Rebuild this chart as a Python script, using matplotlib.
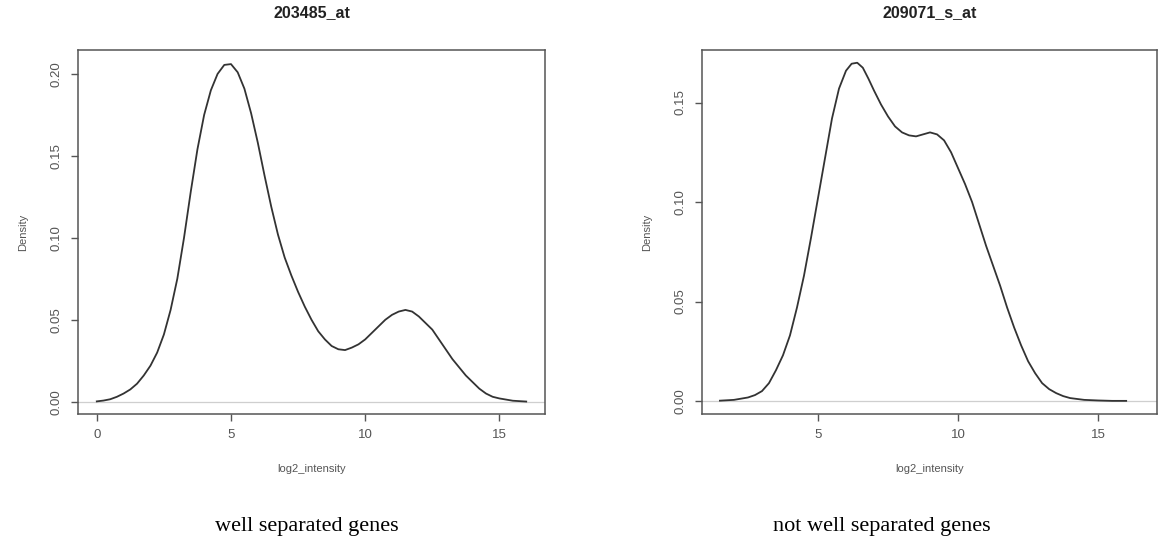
import matplotlib
matplotlib.use("Agg")
import matplotlib.pyplot as plt

plt.rcParams['font.family'] = ['Liberation Sans', 'DejaVu Sans']

# probe set names and captions
titles = ['203485_at', '209071_s_at']
captions = ['well separated genes', 'not well separated genes']
x_label = 'log2_intensity'
y_label = 'Density'

# density curve of 203485_at
left_x = [0.0, 0.25, 0.5, 0.75, 1.0, 1.25, 1.5, 1.75, 2.0, 2.25, 2.5, 2.75,
          3.0, 3.25, 3.5, 3.75, 4.0, 4.25, 4.5, 4.75, 5.0, 5.25, 5.5, 5.75,
          6.0, 6.25, 6.5, 6.75, 7.0, 7.25, 7.5, 7.75, 8.0, 8.25, 8.5, 8.75,
          9.0, 9.25, 9.5, 9.75, 10.0, 10.25, 10.5, 10.75, 11.0, 11.25, 11.5,
          11.75, 12.0, 12.25, 12.5, 12.75, 13.0, 13.25, 13.5, 13.75, 14.0,
          14.25, 14.5, 14.75, 15.0, 15.5, 16.0]
left_y = [0.0002, 0.0007, 0.0015, 0.003, 0.005, 0.0075, 0.011, 0.016, 0.022,
          0.030, 0.041, 0.056, 0.075, 0.100, 0.128, 0.154, 0.175, 0.190,
          0.200, 0.2055, 0.206, 0.201, 0.191, 0.176, 0.158, 0.138, 0.119,
          0.102, 0.088, 0.077, 0.067, 0.058, 0.050, 0.043, 0.038, 0.034,
          0.032, 0.0315, 0.033, 0.035, 0.038, 0.042, 0.046, 0.050, 0.053,
          0.055, 0.056, 0.055, 0.052, 0.048, 0.044, 0.038, 0.032, 0.026,
          0.021, 0.016, 0.012, 0.008, 0.005, 0.003, 0.002, 0.0006, 0.0001]

# density curve of 209071_s_at
right_x = [1.5, 2.0, 2.5, 2.75, 3.0, 3.25, 3.5, 3.75, 4.0, 4.25, 4.5, 4.75,
           5.0, 5.25, 5.5, 5.75, 6.0, 6.2, 6.4, 6.6, 6.8, 7.0, 7.25, 7.5,
           7.75, 8.0, 8.25, 8.5, 8.75, 9.0, 9.25, 9.5, 9.75, 10.0, 10.25,
           10.5, 10.75, 11.0, 11.25, 11.5, 11.75, 12.0, 12.25, 12.5, 12.75,
           13.0, 13.25, 13.5, 13.75, 14.0, 14.5, 15.0, 15.5, 16.0]
right_y = [0.0002, 0.0006, 0.0018, 0.003, 0.005, 0.009, 0.0155, 0.023, 0.033,
           0.047, 0.063, 0.082, 0.102, 0.122, 0.142, 0.157, 0.166, 0.1695,
           0.170, 0.1675, 0.162, 0.156, 0.149, 0.143, 0.138, 0.135, 0.1335,
           0.133, 0.134, 0.135, 0.134, 0.131, 0.125, 0.117, 0.109, 0.100,
           0.089, 0.078, 0.068, 0.058, 0.047, 0.037, 0.028, 0.020, 0.014,
           0.009, 0.006, 0.004, 0.0025, 0.0015, 0.0006, 0.0003, 0.0001, 0.0001]

left_xticks = [0, 5, 10, 15]
left_yticks = [0.00, 0.05, 0.10, 0.15, 0.20]
right_xticks = [5, 10, 15]
right_yticks = [0.00, 0.05, 0.10, 0.15]

W, H = 1159, 555
fig = plt.figure(figsize=(W / 100, H / 100), dpi=100)


def px_axes(x0, x1, y0, y1):
    return fig.add_axes([x0 / W, 1 - y1 / H, (x1 - x0) / W, (y1 - y0) / H])


def r_style(ax, xs, ys, xticks, yticks, xlim, ylim, title):
    box = '#555555'
    ax.plot(xs, ys, color='#333333', lw=1.3)
    ax.axhline(0, color='#cfcfcf', lw=0.9, zorder=0)
    ax.set_xlim(*xlim)
    ax.set_ylim(*ylim)
    ax.set_xticks(xticks)
    ax.set_xticklabels([str(t) for t in xticks])
    ax.set_yticks(yticks)
    ax.set_yticklabels(['%.2f' % t for t in yticks], rotation=90, va='center')
    for s in ax.spines.values():
        s.set_color(box)
        s.set_linewidth(1.1)
    ax.tick_params(direction='out', length=5, width=1.0, color=box,
                   labelsize=9.5, labelcolor='#555555', pad=6)
    ax.set_xlabel(x_label, fontsize=8, color='#555555', labelpad=16)
    ax.set_ylabel(y_label, fontsize=8, color='#555555', labelpad=16)
    ax.set_title(title, fontsize=11.5, fontweight='bold', color='#222222',
                 pad=24)


ax1 = px_axes(78, 545, 50, 414)
r_style(ax1, left_x, left_y, left_xticks, left_yticks,
        (-0.7, 16.7), (-0.0075, 0.2146), titles[0])

ax2 = px_axes(702, 1157, 50, 414)
r_style(ax2, right_x, right_y, right_xticks, right_yticks,
        (0.86, 17.1), (-0.0065, 0.1764), titles[1])

for cx, txt in zip([307, 882], captions):
    fig.text(cx / W, 1 - 527 / H, txt, ha='center', va='center',
             fontsize=16, family='Liberation Serif', color='black')

fig.savefig('out.png', dpi=100)
